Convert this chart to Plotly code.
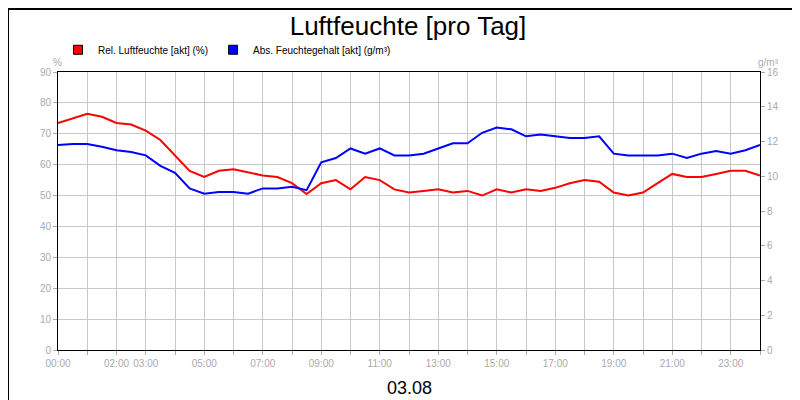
import plotly.graph_objects as go

# half-hour steps 00:00 .. 24:00
hours = [i * 0.5 for i in range(49)]
rel_feuchte = [73.5, 75, 76.5, 75.5, 73.5, 73, 71, 68, 63, 58, 56, 58, 58.5, 57.5, 56.5, 56,
               54, 50.5, 54, 55, 52, 56, 55, 52, 51, 51.5, 52, 51, 51.5, 50, 52, 51,
               52, 51.5, 52.5, 54, 55, 54.5, 51, 50, 51, 54, 57, 56, 56, 57, 58, 58, 56.5]
abs_feuchte = [11.8, 11.85, 11.85, 11.7, 11.5, 11.4, 11.2, 10.6, 10.2, 9.3, 9.0, 9.1, 9.1, 9.0, 9.3, 9.3,
               9.4, 9.2, 10.8, 11.05, 11.6, 11.3, 11.6, 11.2, 11.2, 11.3, 11.6, 11.9, 11.9, 12.5, 12.8, 12.7,
               12.3, 12.4, 12.3, 12.2, 12.2, 12.3, 11.3, 11.2, 11.2, 11.2, 11.3, 11.05, 11.3, 11.45, 11.3, 11.5, 11.8]
tick_labels = {0: "00:00", 2: "02:00", 3: "03:00", 5: "05:00", 7: "07:00", 9: "09:00", 11: "11:00",
               13: "13:00", 15: "15:00", 17: "17:00", 19: "19:00", 21: "21:00", 23: "23:00"}
series_names = ["Rel. Luftfeuchte [akt] (%)", "Abs. Feuchtegehalt [akt] (g/m³)"]
colors = ["#ff0000", "#0000ff"]

grey = "#aaaaaa"
fig = go.Figure()
fig.add_trace(go.Scatter(x=hours, y=rel_feuchte, mode="lines", showlegend=False,
                         line=dict(color=colors[0], width=2)))
fig.add_trace(go.Scatter(x=hours, y=abs_feuchte, mode="lines", showlegend=False,
                         line=dict(color=colors[1], width=2), yaxis="y2"))
for name, c in zip(series_names, colors):
    fig.add_trace(go.Scatter(x=[None], y=[None], mode="markers", name=name,
                             marker=dict(symbol="square", size=9, color=c,
                                         line=dict(color="black", width=1))))

fig.update_layout(
    width=800, height=400, plot_bgcolor="white", paper_bgcolor="white",
    margin=dict(l=50, r=48, t=64, b=58, autoexpand=False),
    font=dict(family="Liberation Sans, Arial", size=10, color=grey),
    title=dict(text="Luftfeuchte [pro Tag]", x=0.5, yref="container", y=0.955, xanchor="center",
               yanchor="middle", font=dict(size=26, color="black")),
    showlegend=True,
    legend=dict(orientation="h", x=0.0, y=1.08, xanchor="left", yanchor="middle",
                font=dict(size=10, color="black"), itemwidth=30, bgcolor="rgba(0,0,0,0)"),
    xaxis=dict(range=[0, 24], tickvals=list(range(25)),
               ticktext=[tick_labels.get(h, "") for h in range(25)],
               showgrid=True, gridcolor="#c8c8c8", ticks="outside", ticklen=4, tickcolor=grey,
               showline=True, linecolor="black", mirror=True, zeroline=False),
    yaxis=dict(range=[0, 90], dtick=10, showgrid=True, gridcolor="#c8c8c8", ticks="outside",
               ticklen=4, tickcolor=grey, showline=True, linecolor="black", zeroline=False),
    yaxis2=dict(range=[0, 16], dtick=2, overlaying="y", side="right", showgrid=False,
                ticks="outside", ticklen=4, tickcolor=grey, showline=True, linecolor="black",
                zeroline=False),
    shapes=[dict(type="rect", xref="paper", yref="paper", x0=-0.0712, x1=1.0683, y0=-0.2052, y1=1.227,
                 line=dict(color="black", width=2))],
    annotations=[
        dict(text="03.08", xref="paper", yref="paper", x=0.5, y=-0.135, yanchor="middle",
             showarrow=False, font=dict(size=18, color="black")),
        dict(text="%", xref="paper", yref="paper", x=-0.01, y=1.06, showarrow=False),
        dict(text="g/m³", xref="paper", yref="paper", x=1.03, y=1.06, showarrow=False),
    ],
)
fig.write_html("out.html")
